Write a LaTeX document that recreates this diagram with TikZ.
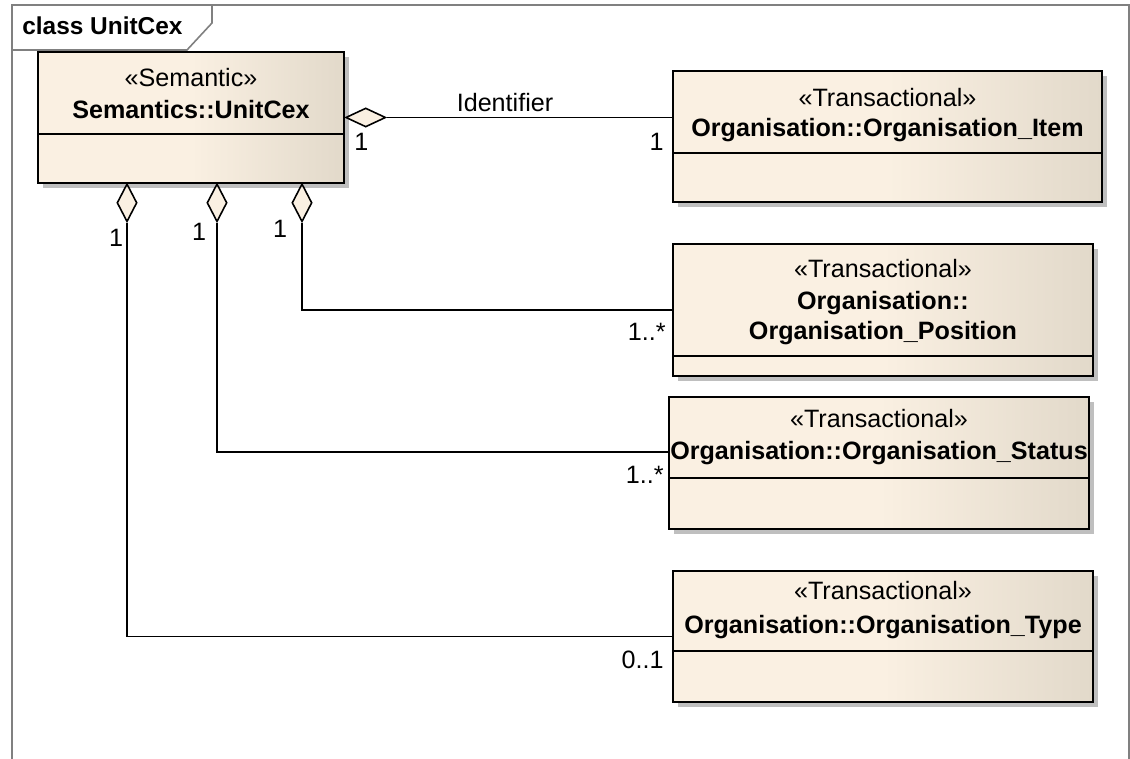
\documentclass[tikz,border=0pt]{standalone}
\usepackage{fontspec}
\setmainfont{Liberation Sans}
\usetikzlibrary{shapes.geometric}
\usetikzlibrary{shadows}
\definecolor{classfill}{RGB}{250,240,226}
\definecolor{classdark}{RGB}{226,217,202}
\definecolor{framegray}{RGB}{128,128,128}
\tikzset{
	classbox/.style={draw, line width=1.1pt, left color=classfill, right color=classdark, middle color=classfill,
		drop shadow={shadow xshift=0.1cm, shadow yshift=-0.1cm, fill=black!25, opacity=1}},
	aggv/.style={diamond, draw, fill=classfill, line width=0.9pt, minimum width=0.4cm, minimum height=0.76cm, inner sep=0pt},
	aggh/.style={diamond, draw, fill=classfill, line width=0.9pt, minimum width=0.8cm, minimum height=0.38cm, inner sep=0pt},
	stereo/.style={anchor=base, inner sep=0pt, font=\fontsize{14.3}{17}\selectfont},
	cname/.style={anchor=base, inner sep=0pt, font=\fontsize{14.3}{17}\selectfont\bfseries},
	mult/.style={inner sep=0pt, font=\fontsize{14.3}{17}\selectfont},
	assoc/.style={line width=0.9pt}
}

\begin{document}
\begin{tikzpicture}[x=0.02cm, y=-0.02cm]
		\useasboundingbox[fill=white] (0,0) rectangle (1130,759);
		% frame
		\draw[framegray, line width=0.9pt] (12,759) -- (12,5) -- (1129,5) -- (1129,759);
		\draw[framegray, line width=0.9pt] (12,50) -- (187,50) -- (212,23) -- (212,5);
		\node[cname, anchor=base west, font=\fontsize{13.9}{17}\selectfont\bfseries] (frametitle) at (22,35) {class UnitCex};

		% classes
		\node[classbox, minimum width=6.12cm, minimum height=2.62cm] (unitcex) at (191,117.5) {};
		\draw[line width=0.8pt] ([yshift=-1.66cm]unitcex.north west) -- ([yshift=-1.66cm]unitcex.north east);
		\node[stereo] at (191,87) {«Semantic»};
		\node[cname] at (191,119) {Semantics::UnitCex};

		\node[classbox, minimum width=8.58cm, minimum height=2.62cm] (item) at (887.5,136.5) {};
		\draw[line width=0.8pt] ([yshift=-1.66cm]item.north west) -- ([yshift=-1.66cm]item.north east);
		\node[stereo] at (887.5,107) {«Transactional»};
		\node[cname] at (887.5,137) {Organisation::Organisation\_Item};

		\node[classbox, minimum width=8.4cm, minimum height=2.64cm] (position) at (883,310) {};
		\draw[line width=0.8pt] ([yshift=-2.26cm]position.north west) -- ([yshift=-2.26cm]position.north east);
		\node[stereo] at (883,278) {«Transactional»};
		\node[cname] at (883,310) {Organisation::};
		\node[cname] at (883,340) {Organisation\_Position};

		\node[classbox, minimum width=8.4cm, minimum height=2.64cm] (status) at (879,463) {};
		\draw[line width=0.8pt] ([yshift=-1.64cm]status.north west) -- ([yshift=-1.64cm]status.north east);
		\node[stereo] at (879,428) {«Transactional»};
		\node[cname] at (879,460) {Organisation::Organisation\_Status};

		\node[classbox, minimum width=8.4cm, minimum height=2.62cm] (type) at (883,636.5) {};
		\draw[line width=0.8pt] ([yshift=-1.62cm]type.north west) -- ([yshift=-1.62cm]type.north east);
		\node[stereo] at (883,600) {«Transactional»};
		\node[cname] at (883,634) {Organisation::Organisation\_Type};

		% aggregations
		\node[aggh, anchor=west] (dItem) at (unitcex.east) {};
		\node[aggv, anchor=north] (dType) at (127,183) {};
		\node[aggv, anchor=north] (dStatus) at (217,183) {};
		\node[aggv, anchor=north] (dPosition) at (302,183) {};

		\draw[assoc] (dItem.east) -- (dItem.east -| item.west);
		\draw[assoc] (dPosition.south) |- (position.west);
		\draw[assoc] (dStatus.south) |- ([yshift=0.22cm]status.west);
		\draw[assoc] (dType.south) |- (type.west);

		% labels
		\node[mult, anchor=base] (lIdent) at (505,112) {Identifier};
		\node[mult, anchor=base west] (mUnitItem) at (354,151) {1};
		\node[mult, anchor=base east] (mItem) at (664,151) {1};
		\node[mult, anchor=base] (mUnitType) at (116,247) {1};
		\node[mult, anchor=base] (mUnitStatus) at (199,241) {1};
		\node[mult, anchor=base] (mUnitPosition) at (280,238) {1};
		\node[mult, anchor=base east] (mPosition) at (666,341) {1..*};
		\node[mult, anchor=base east] (mStatus) at (664,484) {1..*};
		\node[mult, anchor=base east] (mType) at (664,669) {0..1};
\end{tikzpicture}
\end{document}
